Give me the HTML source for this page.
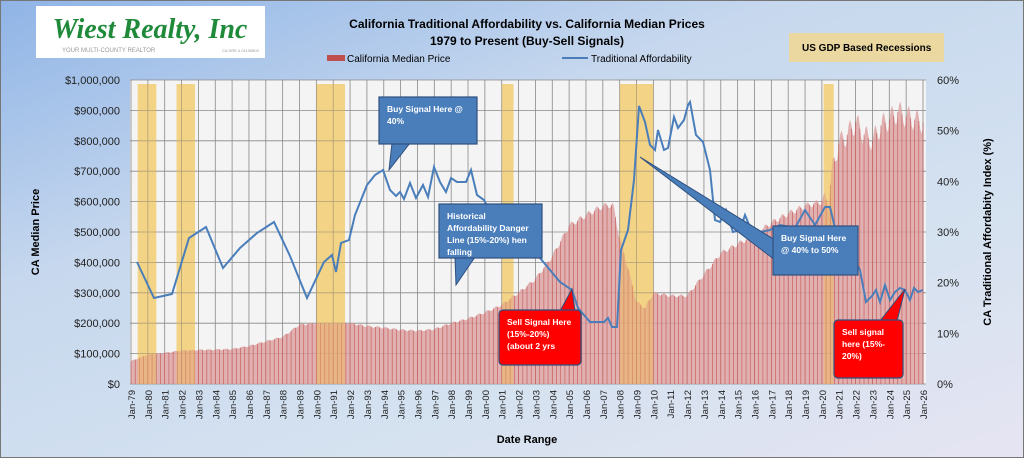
<!DOCTYPE html>
<html><head><meta charset="utf-8"><style>
body{margin:0;width:1024px;height:458px;overflow:hidden;font-family:"Liberation Sans",sans-serif;}
#bg{position:absolute;left:0;top:0;width:1024px;height:458px;background:linear-gradient(160deg,#8fb4e6 0%,#c7d8ee 35%,#d5e2f0 70%,#e6e4f2 100%);}
</style></head><body><div id="bg"></div>
<svg id="s" width="1024" height="458" style="position:absolute;left:0;top:0" font-family="Liberation Sans, sans-serif"></svg>
<script>
const X0=131,X1=923,Y0=384,YT=80;
const xs=y=>X0+(y-1979)*(X1-X0)/47;
const py=v=>Y0-v*(Y0-YT)/1000;
const ay=p=>Y0-p*(Y0-YT)/60;
let h='';
h+='<rect x="130" y="80" width="796" height="304" fill="#f4f4f4"/>';
const R=[[1979.4,1980.5],[1981.7,1982.8],[1990.0,1991.7],[2001.0,2001.7],[2008.0,2010.0],[2020.1,2020.7]];
R.forEach(r=>{h+=`<rect x="${xs(r[0])}" y="84" width="${xs(r[1])-xs(r[0])}" height="300" fill="#f5d98a" opacity="0.8"/>`});
// grid
for(let i=0;i<=10;i++){h+=`<line x1="130" x2="926" y1="${py(i*100)}" y2="${py(i*100)}" stroke="#888" stroke-width="0.8"/>`}
for(let y=1979;y<=2026;y++){h+=`<line x1="${xs(y)}" x2="${xs(y)}" y1="80" y2="384" stroke="#888" stroke-width="0.8"/>`}
// price
const P=[[1979,75],[1980,97],[1981,102],[1982,110],[1983,112],[1984,113],[1985,115],[1986,125],[1987,140],[1988,155],[1989,195],[1990,200],[1991,200],[1992,200],[1993,190],[1994,185],[1995,178],[1996,175],[1997,180],[1998,200],[1999,215],[2000,235],[2001,260],[2002,300],[2003,345],[2004,420],[2005,520],[2006,555],[2007,585],[2007.6,590],[2008,480],[2008.5,380],[2009,270],[2009.5,250],[2010,300],[2011,290],[2012,290],[2013,360],[2014,430],[2015,460],[2016,490],[2017,530],[2018,560],[2019,585],[2020,600],[2020.4,610],[2020.6,700],[2021,790],[2021.5,820],[2022,860],[2022.5,820],[2023,800],[2023.5,850],[2024,870],[2024.5,895],[2025,880],[2025.5,870],[2026,860]];
const pv=t=>{for(let i=1;i<P.length;i++){if(t<=P[i][0]){const a=P[i-1],b=P[i];return a[1]+(b[1]-a[1])*(t-a[0])/(b[0]-a[0]);}}return 860};
let poly='';for(let t=1979;t<=2026;t+=1/12){const v=pv(t)*(1+0.03*Math.sin(t*6.28*2)*(t>2020?1.5:0.6));poly+=`${xs(t).toFixed(1)},${py(v).toFixed(1)} `;}
h+=`<polygon points="${xs(1979)},384 ${poly} ${xs(2026)},384" fill="#dca0a0" opacity="0.8"/>`;
for(let t=1979;t<=2026;t+=0.25){h+=`<line x1="${xs(t)}" x2="${xs(t)}" y1="384" y2="${py(pv(t))}" stroke="#b52a2a" stroke-width="0.7" opacity="0.6"/>`}
R.forEach(r=>{h+=`<rect x="${xs(r[0])}" y="84" width="${xs(r[1])-xs(r[0])}" height="300" fill="#f0c060" opacity="0.4"/>`});
// affordability
const A=[[137,262],[154,298],[172,294],[189,238],[206,227],[223,268],[240,248],[257,233],[274,222],[290,256],[307,298],[324,262],[332,255],[336,272],[341,243],[349,240],[355,215],[367,185],[375,175],[383,170],[390,190],[396,196],[400,192],[404,199],[410,183],[416,198],[423,185],[428,197],[434,167],[440,182],[446,192],[451,178],[457,182],[466,182],[471,170],[477,195],[484,200],[500,230],[520,240],[540,258],[560,282],[572,290],[578,308],[590,322],[604,322],[608,318],[612,327],[617,327],[621,250],[628,230],[634,180],[639,106],[645,122],[650,145],[655,150],[658,130],[664,150],[668,148],[674,117],[678,128],[684,120],[688,105],[690,102],[696,135],[703,142],[710,170],[715,220],[720,222],[726,210],[733,232],[740,230],[745,215],[752,232],[760,232],[770,230],[780,225],[795,228],[805,210],[815,225],[825,207],[830,207],[835,228],[845,245],[860,270],[866,302],[872,296],[876,290],[880,302],[885,285],[890,300],[895,292],[900,288],[905,290],[910,300],[914,288],[918,292],[923,290]];
h+=`<polyline points="${A.map(p=>p.join(',')).join(' ')}" fill="none" stroke="#4a7ebb" stroke-width="2"/>`;
// axes labels
for(let i=0;i<=10;i++){const v=i*100000;h+=`<text x="120" y="${py(i*100)+4}" font-size="11" text-anchor="end" fill="#222">$${v.toLocaleString('en-US')}</text>`}
for(let i=0;i<=6;i++){h+=`<text x="937" y="${ay(i*10)+4}" font-size="11" fill="#222">${i*10}%</text>`}
for(let y=1979;y<=2026;y++){const x=xs(y)+4;h+=`<text transform="translate(${x},390) rotate(-90)" font-size="9.5" text-anchor="end" fill="#222">Jan-${String(y%100).padStart(2,'0')}</text>`}
h+=`<text transform="translate(39,232) rotate(-90)" font-size="11" font-weight="bold" text-anchor="middle">CA Median Price</text>`;
h+=`<text transform="translate(991,232) rotate(-90)" font-size="11" font-weight="bold" text-anchor="middle">CA Traditional Affordabity Index (%)</text>`;
h+=`<text x="527" y="443" font-size="11" font-weight="bold" text-anchor="middle">Date Range</text>`;
h+=`<text x="527" y="28" font-size="12" font-weight="bold" text-anchor="middle">California Traditional Affordability  vs. California Median Prices</text>`;
h+=`<text x="527" y="45" font-size="12" font-weight="bold" text-anchor="middle">1979 to Present (Buy-Sell Signals)</text>`;
h+=`<rect x="327" y="55" width="18" height="6" fill="#c0504d"/><text x="347" y="62" font-size="10">California Median Price</text>`;
h+=`<line x1="562" x2="588" y1="58" y2="58" stroke="#4a7ebb" stroke-width="2"/><text x="591" y="62" font-size="10">Traditional Affordability</text>`;
h+=`<rect x="789" y="33" width="155" height="29" fill="#ebd8a0"/><text x="802" y="51" font-size="10" font-weight="bold">US GDP Based Recessions</text>`;
// logo
h+=`<rect x="36" y="6" width="229" height="52" fill="#fff"/><text x="150" y="38" font-size="28" font-style="italic" font-weight="bold" fill="#1f8a3a" text-anchor="middle" font-family="Liberation Serif, serif">Wiest Realty, Inc</text><text x="62" y="52" font-size="6" fill="#999">YOUR MULTI-COUNTY REALTOR</text><text x="222" y="52" font-size="4" fill="#999">CA DRE # 01130800</text>`;
// callouts
function co(x,y,w,hh,pts,fill,lines){h+=`<polygon points="${pts}" fill="${fill}" stroke="#2f4f7f" stroke-width="1"/><rect x="${x}" y="${y}" width="${w}" height="${hh}" fill="${fill}" stroke="#2f4f7f" stroke-width="1.2" rx="${fill=='#ff0000'?4:0}"/>`;lines.forEach((l,i)=>{h+=`<text x="${x+8}" y="${y+15+i*12}" font-size="8.5" font-weight="bold" fill="#fff">${l}</text>`})}
co(379,97,98,47,'392,143 410,143 389,170','#4a7ebb',['Buy Signal  Here @','40%']);
co(439,204,103,54,'455,257 475,257 456,285','#4a7ebb',['Historical','Affordability Danger','Line (15%-20%) hen','falling']);
co(499,310,82,55,'560,311 575,311 572,289','#ff0000',['Sell Signal Here','(15%-20%)','(about 2 yrs']);
co(773,226,85,49,'640,157 775,240 775,260','#4a7ebb',['Buy Signal  Here','@ 40% to 50%']);
co(834,320,69,58,'880,321 897,321 905,289','#ff0000',['Sell signal','here (15%-','20%)']);
h+=`<rect x="0.5" y="0.5" width="1023" height="457" fill="none" stroke="#777"/>`;
document.getElementById('s').innerHTML=h;
</script></body></html>
